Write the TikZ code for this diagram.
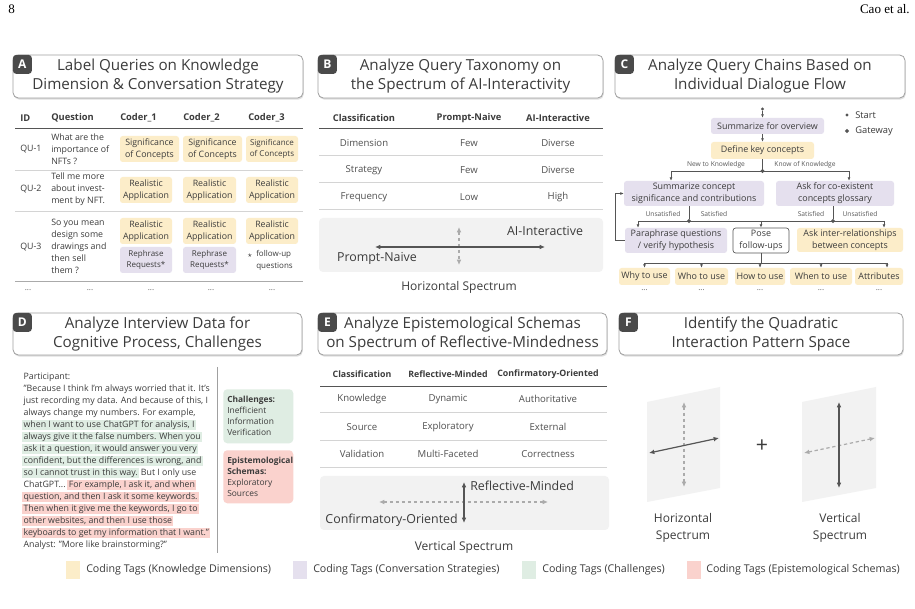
\documentclass[tikz,border=0pt]{standalone}
\usepackage{fontspec}
\setmainfont{Open Sans}
\newfontfamily\libserif{Liberation Serif}
\usetikzlibrary{arrows.meta,shadows,calc,shapes.geometric}
\definecolor{ytag}{HTML}{FCEDC9}
\definecolor{ptag}{HTML}{E5E0EE}
\definecolor{gtag}{HTML}{DFEDE3}
\definecolor{rtag}{HTML}{FAD2CD}
\definecolor{panelgray}{HTML}{F2F2F2}
\definecolor{txt}{HTML}{3C3C3C}
\definecolor{badge}{HTML}{4A4A4A}
\definecolor{boxline}{HTML}{A0A0A0}
\definecolor{sep}{HTML}{D4D4D4}
\definecolor{darkline}{HTML}{555555}
\definecolor{dashgray}{HTML}{ABABAB}
\newcommand{\myfs}[2]{\fontsize{#1}{#2}\selectfont}
\begin{document}
\begin{tikzpicture}[x=0.75pt,y=-0.75pt,
  every node/.style={inner sep=0pt, text=txt},
  titlebox/.style={draw=boxline, fill=white, rounded corners=4pt, line width=0.6pt, align=center,
     font=\myfs{11.4}{14.25}, drop shadow={shadow xshift=0.6pt, shadow yshift=-1.2pt, opacity=0.25}},
  badgebox/.style={fill=badge, rounded corners=2.5pt, minimum width=14.25pt, minimum height=14.25pt,
     text=white, font=\myfs{9}{9}\bfseries},
  tagbox/.style={rounded corners=2pt, align=center, font=\myfs{6.6}{9}},
  ytagn/.style={tagbox, fill=ytag}, ptagn/.style={tagbox, fill=ptag},
  hdr/.style={font=\myfs{7}{9}\bfseries},
  cellA/.style={font=\myfs{6.6}{9}, align=left},
  cellB/.style={font=\myfs{7.2}{9}, text=txt!90},
  seprule/.style={draw=sep, line width=0.5pt},
  hrule/.style={draw=darkline, line width=0.7pt},
  specbox/.style={fill=panelgray, rounded corners=3pt},
  solidarr/.style={draw=darkline, line width=0.9pt, {Latex[length=4pt,width=3.5pt]}-{Latex[length=4pt,width=3.5pt]}},
  dasharr/.style={draw=dashgray, line width=0.9pt, dash pattern=on 2.5pt off 2pt, {Latex[length=4pt,width=3.5pt]}-{Latex[length=4pt,width=3.5pt]}},
  flowarr/.style={draw=darkline, line width=0.5pt, -{Latex[length=2.5pt,width=2.2pt]}},
  flowline/.style={draw=darkline, line width=0.5pt},
  fbox/.style={rounded corners=2pt, align=center, font=\myfs{6.7}{9}},
  flab/.style={font=\myfs{5}{6}, text=txt!85},
  gw/.style={diamond, fill=darkline, minimum size=3.2pt},
  dotsn/.style={font=\myfs{6}{6}, text=txt!80},
  dline/.style={font=\myfs{6.6}{9}, anchor=west, inner xsep=1pt, text height=5.4pt, text depth=1.7pt, inner ysep=0.5pt},
  hlg/.style={dline, fill=gtag},
  hlr/.style={dline, fill=rtag},
  biglab/.style={font=\myfs{9.3}{12}},
  speclab/.style={font=\myfs{9}{12.75}, align=center},
  legtxt/.style={font=\myfs{8}{9}, anchor=west}
]
\useasboundingbox (0,0) rectangle (915,609);
\fill[white] (0,0) rectangle (915,609);

% header
\node[font=\libserif\myfs{9.8}{10}, text=black, anchor=west] (pg) at (8,9) {8};
\node[font=\libserif\myfs{9.8}{10}, text=black, anchor=east] (auth) at (910,9) {Cao et al.};

% ---------- title boxes ----------
\node[titlebox, minimum width=217.5pt, minimum height=32.25pt] (tA) at (158,76.5) {Label Queries on Knowledge\\Dimension \& Conversation Strategy};
\node[badgebox, anchor=north west] (bA) at (tA.north west) {A};
\node[titlebox, minimum width=213.75pt, minimum height=32.25pt] (tB) at (460.5,76.5) {Analyze Query Taxonomy on\\the Spectrum of AI-Interactivity};
\node[badgebox, anchor=north west] (bB) at (tB.north west) {B};
\node[titlebox, minimum width=217.5pt, minimum height=32.25pt] (tC) at (760,76.5) {Analyze Query Chains Based on\\Individual Dialogue Flow};
\node[badgebox, anchor=north west] (bC) at (tC.north west) {C};
\node[titlebox, minimum width=216.75pt, minimum height=31.5pt] (tD) at (157.5,334) {Analyze Interview Data for\\Cognitive Process, Challenges};
\node[badgebox, anchor=north west] (bD) at (tD.north west) {D};
\node[titlebox, minimum width=216.75pt, minimum height=31.5pt] (tE) at (462.5,334) {Analyze Epistemological Schemas\\on Spectrum of Reflective-Mindedness};
\node[badgebox, anchor=north west] (bE) at (tE.north west) {E};
\node[titlebox, minimum width=213pt, minimum height=31.5pt] (tF) at (761,334) {Identify the Quadratic\\Interaction Pattern Space};
\node[badgebox, anchor=north west] (bF) at (tF.north west) {F};

% ---------- Panel A ----------
\node[hdr, anchor=west] (aH1) at (20,118) {ID};
\node[hdr, anchor=west] (aH2) at (51,118) {Question};
\node[hdr, anchor=west] (aH3) at (120,118) {Coder\_1};
\node[hdr, anchor=west] (aH4) at (183,118) {Coder\_2};
\node[hdr, anchor=west] (aH5) at (248,118) {Coder\_3};
\draw[hrule] (15,128) -- (303,128);
\node[cellA, anchor=west] (id1) at (20,149) {QU-1};
\node[cellA, anchor=west] (q1) at (51,149) {What are the\\importance of\\NFTs ?};
\node[ytagn, minimum width=44.25pt, minimum height=19.5pt] (t11) at (149.5,149) {Significance\\of Concepts};
\node[ytagn, minimum width=44.25pt, minimum height=19.5pt] (t12) at (212.5,149) {Significance\\of Concepts};
\node[ytagn, minimum width=39pt, minimum height=19.5pt, font=\myfs{6}{8.5}] (t13) at (272,149) {Significance\\of Concepts};
\draw[seprule] (15,170) -- (303,170);
\node[cellA, anchor=west] (id2) at (20,189) {QU-2};
\node[cellA, anchor=west] (q2) at (51,189) {Tell me more\\about invest-\\ment by NFT.};
\node[ytagn, minimum width=39pt, minimum height=19.5pt] (t21) at (146,190) {Realistic\\Application};
\node[ytagn, minimum width=39.75pt, minimum height=19.5pt] (t22) at (209.5,190) {Realistic\\Application};
\node[ytagn, minimum width=39pt, minimum height=19.5pt] (t23) at (272,190) {Realistic\\Application};
\draw[seprule] (15,211) -- (303,211);
\node[cellA, anchor=west] (id3) at (20,247) {QU-3};
\node[cellA, anchor=west] (q3) at (51,246) {So you mean\\design some\\drawings and\\then sell\\them ?};
\node[ytagn, minimum width=39pt, minimum height=19.5pt] (t31) at (146,231) {Realistic\\Application};
\node[ytagn, minimum width=39.75pt, minimum height=19.5pt] (t32) at (209.5,231) {Realistic\\Application};
\node[ytagn, minimum width=39pt, minimum height=19.5pt] (t33) at (272,231) {Realistic\\Application};
\node[ptagn, minimum width=39pt, minimum height=19.5pt, font=\myfs{6}{8.5}] (r31) at (146,260) {Rephrase\\Requests*};
\node[ptagn, minimum width=39.75pt, minimum height=19.5pt, font=\myfs{6}{8.5}] (r32) at (209.5,260) {Rephrase\\Requests*};
\node[font=\myfs{6}{8}] (star) at (250,255.5) {$\star$};
\node[font=\myfs{6}{8.5}, align=left, anchor=north west] (fu) at (256,250.5) {follow-up\\questions};
\draw[draw=sep!80!black, line width=0.6pt] (15,281) -- (303,281);
\node[dotsn] (ad1) at (28,290) {...};
\node[dotsn] (ad2) at (90,290) {...};
\node[dotsn] (ad3) at (151,290) {...};
\node[dotsn] (ad4) at (211,290) {...};
\node[dotsn] (ad5) at (272,290) {...};

% ---------- Panel B ----------
\node[hdr] (bH1) at (364,118) {Classification};
\node[hdr] (bH2) at (469,118) {Prompt-Naive};
\node[hdr] (bH3) at (558,118) {AI-Interactive};
\draw[hrule] (319,128) -- (603,128);
\node[cellB] (b11) at (364,143) {Dimension};
\node[cellB] (b12) at (469,143) {Few};
\node[cellB] (b13) at (558,143) {Diverse};
\draw[seprule] (319,155) -- (603,155);
\node[cellB] (b21) at (364,170) {Strategy};
\node[cellB] (b22) at (469,170) {Few};
\node[cellB] (b23) at (558,170) {Diverse};
\draw[seprule] (319,182) -- (603,182);
\node[cellB] (b31) at (364,197) {Frequency};
\node[cellB] (b32) at (469,197) {Low};
\node[cellB] (b33) at (558,197) {High};
\draw[seprule] (319,209) -- (603,209);
\fill[specbox] (319,218) rectangle (603,272);
\coordinate (bL) at (375,247); \coordinate (bR) at (545,247);
\coordinate (bT) at (459,227); \coordinate (bB2) at (459,265);
\draw[dasharr] (bT) -- (bB2);
\draw[solidarr] (bL) -- (bR);
\node[biglab] (bAI) at (545,231) {AI-Interactive};
\node[biglab] (bPN) at (377,258) {Prompt-Naive};
\node[speclab] (bHS) at (459,287) {Horizontal Spectrum};

% ---------- Panel C ----------
\node[fbox, fill=ptag, minimum width=84.75pt, minimum height=12pt] (sum1) at (767.5,126) {Summarize for overview};
\node[fbox, fill=ytag, minimum width=77.25pt, minimum height=12.75pt] (def) at (762.5,150.5) {Define key concepts};
\node[circle, fill=darkline, minimum size=2.6pt] (st) at (762.5,109) {};
\draw[flowarr] (st) -- (st |- sum1.north);
\draw[flowarr] (def.north |- sum1.south) -- (def.north);
\node[gw] (g1) at (762.5,171) {};
\draw[flowline] (def.south) -- (g1);
\node[fbox, fill=ptag, minimum width=105pt, minimum height=18.75pt] (sum2) at (694,193.5) {Summarize concept\\significance and contributions};
\node[fbox, fill=ptag, minimum width=88.5pt, minimum height=18.75pt] (ask1) at (835,193.5) {Ask for co-existent\\concepts glossary};
\coordinate (c1l) at (671,171); \coordinate (c1r) at (849,171);
\draw[flowline] (c1l) -- (c1r);
\draw[flowarr] (c1l) -- (c1l |- sum2.north);
\draw[flowarr] (c1r) -- (c1r |- ask1.north);
\node[flab] (lnew) at (716,165) {New to Knowledge};
\node[flab] (lknow) at (805,165) {Know of Knowledge};
\node[fbox, fill=ptag, minimum width=76.5pt, minimum height=18.75pt] (para) at (676,240.5) {Paraphrase questions\\/ verify hypothesis};
\node[fbox, fill=white, draw=darkline, line width=0.5pt, minimum width=42pt, minimum height=18.75pt] (pose) at (761,240.5) {Pose\\follow-ups};
\node[fbox, fill=ytag, minimum width=79.5pt, minimum height=18pt] (askint) at (850,240) {Ask inter-relationships\\between concepts};
\node[gw] (g2) at (689,221) {};
\node[gw] (g3) at (833,221) {};
\draw[flowline] (g2 |- sum2.south) -- (g2);
\draw[flowline] (g3 |- ask1.south) -- (g3);
\coordinate (c2l) at (638,221); \coordinate (c2r) at (884,221);
\draw[flowline] (c2l) -- (c2r);
\draw[flowarr] (c2l) -- (c2l |- para.north);
\draw[flowarr] (pose.north |- c2l) -- (pose.north);
\draw[flowarr] (c2r) -- (c2r |- askint.north);
\node[flab] (lu1) at (663,214) {Unsatisfied};
\node[flab] (ls1) at (714,214) {Satisfied};
\node[flab] (ls2) at (811,214) {Satisfied};
\node[flab] (lu2) at (860,214) {Unsatisfied};
\draw[flowarr] (para.west) -- ++(-9,0) |- (sum2.west);
\node[fbox, fill=ytag, minimum width=38.25pt, minimum height=12.75pt] (why) at (644.5,276.5) {Why to use};
\node[fbox, fill=ytag, minimum width=39.75pt, minimum height=12.75pt] (who) at (701.5,276.5) {Who to use};
\node[fbox, fill=ytag, minimum width=37.5pt, minimum height=12.75pt] (how) at (760,276.5) {How to use};
\node[fbox, fill=ytag, minimum width=46.5pt, minimum height=12.75pt] (when) at (821,276.5) {When to use};
\node[fbox, fill=ytag, minimum width=36pt, minimum height=12.75pt] (attr) at (879,276.5) {Attributes};
\coordinate (c3l) at (645,263); \coordinate (c3r) at (887,263);
\draw[flowline] (pose.south) -- (pose.south |- c3l);
\draw[flowline] (c3l) -- (c3r);
\draw[flowarr] (why.north |- c3l) -- (why.north);
\draw[flowarr] (who.north |- c3l) -- (who.north);
\draw[flowarr] (how.north |- c3l) -- (how.north);
\draw[flowarr] (when.north |- c3l) -- (when.north);
\draw[flowarr] (c3r) -- (c3r |- attr.north);
\node[dotsn] (cd1) at (644.5,290) {...};
\node[dotsn] (cd2) at (701.5,290) {...};
\node[dotsn] (cd3) at (760,290) {...};
\node[dotsn] (cd4) at (821,290) {...};
\node[dotsn] (cd5) at (879,290) {...};
\node[circle, fill=darkline, minimum size=2.6pt] (lgs) at (847,115) {};
\node[font=\myfs{7}{8}, anchor=west] (lgst) at (855,115) {Start};
\node[gw] (lgg) at (847,131) {};
\node[font=\myfs{7}{8}, anchor=west] (lggt) at (855,131) {Gateway};

% ---------- Panel D ----------
\node[dline] (d1) at (22,377) {Participant:};
\node[dline] (d2) at (22,389) {"Because I think I'm always worried that it. It's};
\node[dline] (d3) at (22,401) {just recording my data. And because of this, I};
\node[dline] (d4) at (22,413) {always change my numbers. For example,};
\node[hlg] (d5) at (22,425) {when I want to use ChatGPT for analysis, I};
\node[hlg] (d6) at (22,437) {always give it the false numbers. When you};
\node[hlg] (d7) at (22,449) {ask it a question, it would answer you very};
\node[hlg] (d8) at (22,461) {confident, but the differences is wrong, and};
\node[hlg] (d9) at (22,473) {so I cannot trust in this way.};
\node[dline] (d9b) at (d9.east) {But I only use};
\node[dline] (d10) at (22,485) {ChatGPT...};
\node[hlr] (d10b) at (d10.east) {For example, I ask it, and when};
\node[hlr] (d11) at (22,497) {question, and then I ask it some keywords.};
\node[hlr] (d12) at (22,509) {Then when it give me the keywords, I go to};
\node[hlr] (d13) at (22,521) {other websites, and then I use those};
\node[hlr] (d14) at (22,533) {keyboards to get my information that I want."};
\node[dline] (d15) at (22,545) {Analyst: "More like brainstorming?"};
\draw[draw=boxline, line width=0.6pt] (217,367) -- (217,553);
\node[fill=gtag, rounded corners=3pt, anchor=north west, minimum width=52.5pt, minimum height=40.5pt,
  text width=46.5pt, inner xsep=3pt, align=left, font=\myfs{6.3}{8.25}] (chal) at (223,389)
  {\textbf{Challenges:}\\Inefficient\\Information\\Verification};
\node[fill=rtag, rounded corners=3pt, anchor=north west, minimum width=52.5pt, minimum height=39.75pt,
  text width=46.5pt, inner xsep=3pt, align=left, font=\myfs{6.3}{8.25}] (epis) at (223,450)
  {\textbf{Epistemological}\\\textbf{Schemas:}\\Exploratory\\Sources};

% ---------- Panel E ----------
\node[hdr, font=\myfs{6.6}{9}\bfseries] (eH1) at (362,374) {Classification};
\node[hdr, font=\myfs{6.6}{9}\bfseries] (eH2) at (448,374) {Reflective-Minded};
\node[hdr, font=\myfs{6.6}{9}\bfseries] (eH3) at (548,374) {Confirmatory-Oriented};
\draw[hrule] (320,386) -- (607,386);
\node[cellB] (e11) at (362,399) {Knowledge};
\node[cellB] (e12) at (448,399) {Dynamic};
\node[cellB] (e13) at (548,399) {Authoritative};
\draw[seprule] (320,412) -- (607,412);
\node[cellB] (e21) at (362,427) {Source};
\node[cellB] (e22) at (448,427) {Exploratory};
\node[cellB] (e23) at (548,427) {External};
\draw[seprule] (320,440) -- (607,440);
\node[cellB] (e31) at (362,454) {Validation};
\node[cellB] (e32) at (448,454) {Multi-Faceted};
\node[cellB] (e33) at (548,454) {Correctness};
\draw[seprule] (320,467) -- (607,467);
\fill[specbox] (320,476) rectangle (609,530);
\coordinate (eL) at (379,502); \coordinate (eR) at (548,502);
\coordinate (eT) at (464,482); \coordinate (eB) at (464,523);
\draw[dasharr] (eL) -- (eR);
\draw[solidarr] (eT) -- (eB);
\node[biglab, anchor=west] (eRM) at (470,486) {Reflective-Minded};
\node[biglab, anchor=east] (eCO) at (458,520) {Confirmatory-Oriented};
\node[speclab] (eVS) at (464,547) {Vertical Spectrum};

% ---------- Panel F ----------
\fill[panelgray] (647,402) -- (720,387) -- (720,488) -- (647,502) -- cycle;
\fill[panelgray] (802,402) -- (876,387) -- (876,488) -- (802,502) -- cycle;
\coordinate (f1t) at (684,402); \coordinate (f1b) at (684,487);
\coordinate (f1l) at (649,453); \coordinate (f1r) at (719,438);
\draw[dasharr] (f1t) -- (f1b);
\draw[solidarr] (f1l) -- (f1r);
\coordinate (f2t) at (839,402); \coordinate (f2b) at (839,488);
\coordinate (f2l) at (804,453); \coordinate (f2r) at (875,438);
\draw[dasharr] (f2l) -- (f2r);
\draw[solidarr] (f2t) -- (f2b);
\node[font=\myfs{16}{16}] (plus) at (762,446) {+};
\node[speclab] (fHS) at (683,527.5) {Horizontal\\Spectrum};
\node[speclab] (fVS) at (840,527.5) {Vertical\\Spectrum};

% ---------- Legend ----------
\fill[ytag] (66,561) rectangle (80,579);
\node[legtxt] (lg1) at (86,570) {Coding Tags (Knowledge Dimensions)};
\fill[ptag] (293,561) rectangle (307,579);
\node[legtxt] (lg2) at (313,570) {Coding Tags (Conversation Strategies)};
\fill[gtag] (522,561) rectangle (536,579);
\node[legtxt] (lg3) at (542,570) {Coding Tags (Challenges)};
\fill[rtag] (687,561) rectangle (701,579);
\node[legtxt] (lg4) at (706,570) {Coding Tags (Epistemological Schemas)};
\end{tikzpicture}
\end{document}
